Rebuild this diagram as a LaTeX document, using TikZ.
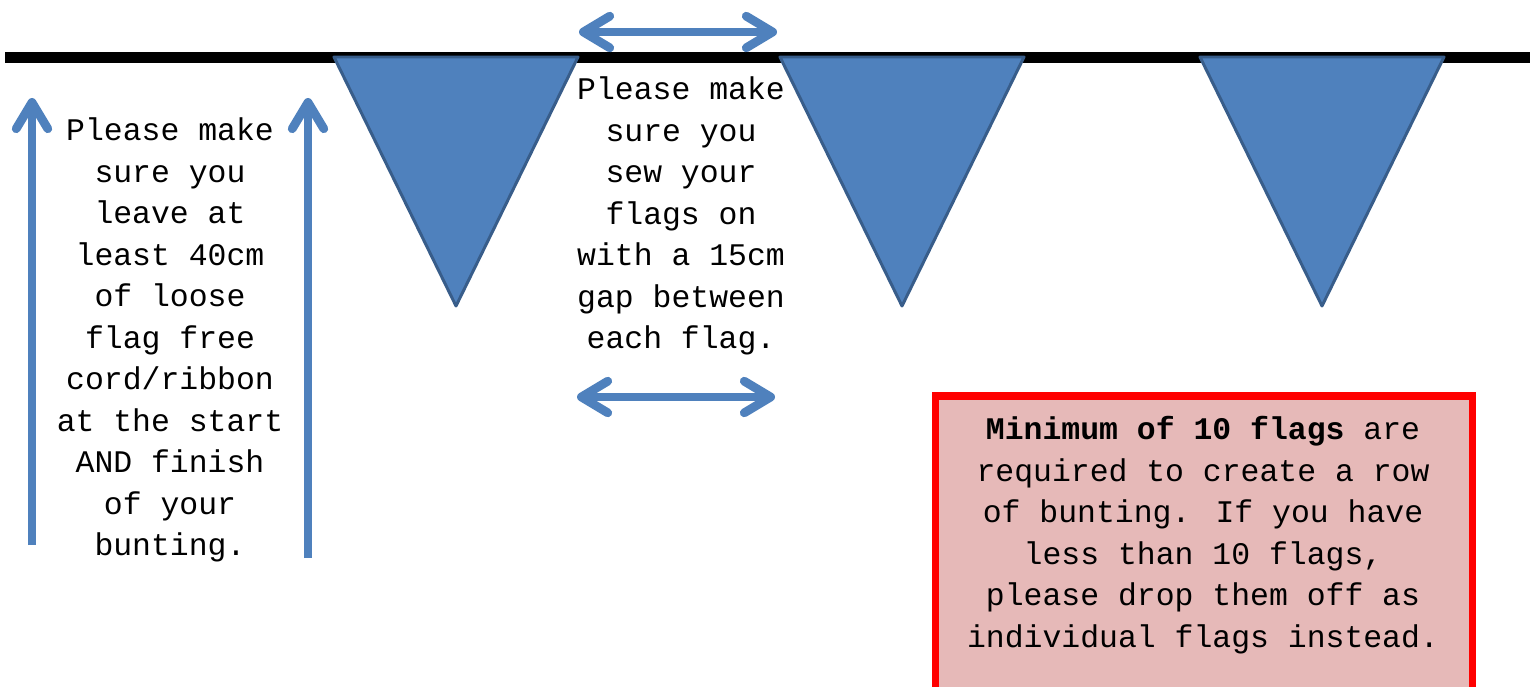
\documentclass[tikz,border=0pt]{standalone}
\usepackage{fontspec}
\usepackage{xcolor}
\usepackage{tikz}
\usetikzlibrary{arrows.meta,positioning,calc}
\newfontfamily\courier{Liberation Mono}
\definecolor{flagblue}{RGB}{79,129,189}
\definecolor{flagedge}{RGB}{56,93,138}
\definecolor{notepink}{RGB}{230,185,184}

\begin{document}
\begin{tikzpicture}[x=0.02cm,y=-0.02cm,
  flag/.style={fill=flagblue,draw=flagedge,line width=1.7pt,line join=round},
  cord/.style={line width=6.2pt,black},
  barb/.tip={Straight Barb[length=15pt,width=18pt,line width=5pt 0,round]},
  arr/.style={line width=4.5pt,flagblue,-barb},
  darr/.style={line width=4.5pt,flagblue,barb-barb},
  note/.style={align=center,inner sep=0pt,font=\courier\fontsize{17.9}{23.6}\selectfont},
  redbox/.style={fill=notepink,draw=red,line width=4pt}]
\clip (0,0) rectangle (1530,686); \useasboundingbox (0,0) rectangle (1530,686);
% cord and flags
\draw[cord] (5,57.5) -- (1530,57.5);
\foreach \x in {334,780,1200} \draw[flag] (\x,57) -- ++(244,0) -- ++(-122,249) -- cycle;
% free cord at start and finish
\coordinate (lfoot) at (32,545); \coordinate (ltip) at (32,98);
\coordinate (rfoot) at (308,558); \coordinate (rtip) at (308,98);
\draw[arr] (lfoot) -- (ltip); \draw[arr] (rfoot) -- (rtip);
\node[note] (freecord) at (170,340) {Please make\\sure you\\leave at\\least 40cm\\of loose\\flag free\\cord/ribbon\\at the start\\AND finish\\of your\\bunting.};
% gap between flags
\coordinate (gapA) at (579,32); \coordinate (gapB) at (777,32);
\coordinate (gapC) at (577,397); \coordinate (gapD) at (775,397);
\draw[darr] (gapA) -- (gapB); \draw[darr] (gapC) -- (gapD);
\node[note] (gap) at (681,216) {Please make\\sure you\\sew your\\flags on\\with a 15cm\\gap between\\each flag.};
% minimum note
\draw[redbox] (935,396) rectangle (1472,720);
\node[note] (minimum) at (1203,535) {\textbf{Minimum of 10 flags} are\\required to create a row\\of bunting. If you have\\less than 10 flags,\\please drop them off as\\individual flags instead.};
\end{tikzpicture}
\end{document}
